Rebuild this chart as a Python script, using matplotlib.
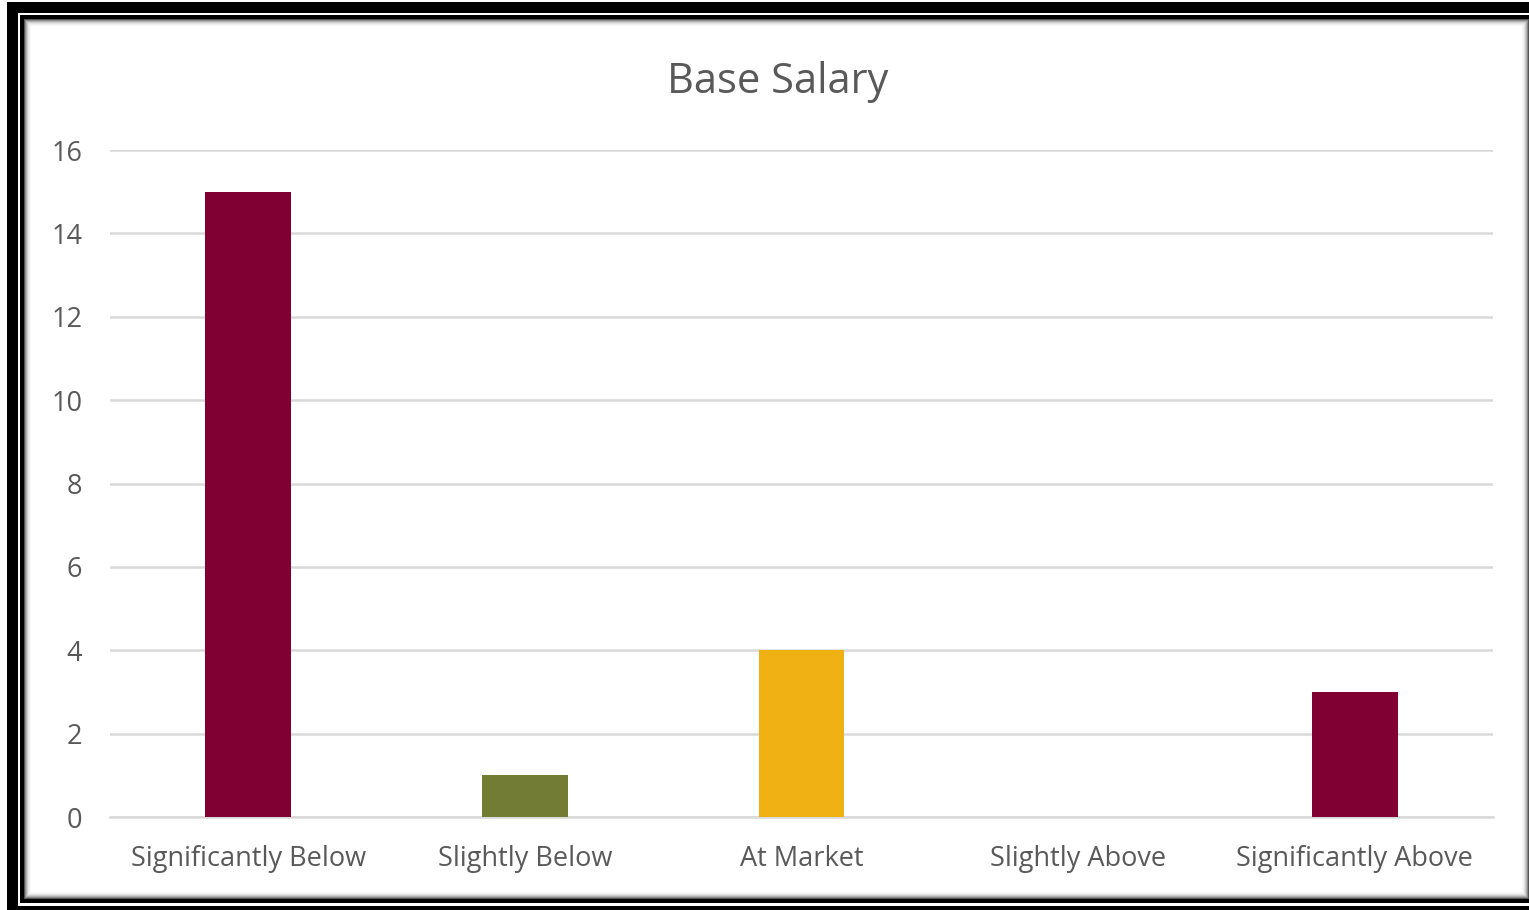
import matplotlib
matplotlib.use("Agg")
import matplotlib.pyplot as plt
from matplotlib.patches import Rectangle

categories = ['Significantly Below', 'Slightly Below', 'At Market', 'Slightly Above', 'Significantly Above']
counts = [15, 1, 4, 0, 3]
bar_colors = ['#800033', '#727C34', '#F0B114', '#800033', '#800033']
yticks = [0, 2, 4, 6, 8, 10, 12, 14, 16]

W, H = 1529, 910
plt.rcParams['font.family'] = ['Open Sans', 'DejaVu Sans']

fig = plt.figure(figsize=(W / 100, H / 100), dpi=100)
fig.patch.set_facecolor('white')


def px_rect(x0, y0, x1, y1, **kw):
    # rectangle in image pixels (y measured from top), kept behind the axes
    r = Rectangle((x0 / W, 1 - y1 / H), (x1 - x0) / W, (y1 - y0) / H,
                  transform=fig.transFigure, zorder=-10, **kw)
    fig.patches.append(r)


# outer frame + shadowed inner box
px_rect(7, 2, 1535, 910, facecolor='black', edgecolor='none')
px_rect(18, 13, 1535, 906, facecolor='white', edgecolor='none')
px_rect(20, 15, 1535, 903, facecolor='black', edgecolor='none')
shades = ['#555555', '#8a8a8a', '#b0b0b0', '#cdcdcd', '#e2e2e2', '#f0f0f0', '#f8f8f8', 'white']
for i, c in enumerate(shades):
    px_rect(24 + i, 19 + i, 1529 - i, 899 - i, facecolor=c, edgecolor='none')

ax = fig.add_axes([110 / W, 1 - 817 / H, (1493 - 110) / W, (817 - 150) / H])
ax.set_facecolor('none')
x = range(len(categories))
ax.bar(x, counts, width=0.31, color=bar_colors, zorder=3)

ax.set_xlim(-0.5, 4.5)
ax.set_ylim(0, 16)
ax.set_yticks(yticks)
ax.set_xticks(list(x))
ax.set_xticklabels(categories)
ax.yaxis.grid(True, color='#d9d9d9', linewidth=1.8, zorder=0)
ax.set_axisbelow(True)
for s in ['top', 'right', 'left']:
    ax.spines[s].set_visible(False)
ax.spines['bottom'].set_color('#d9d9d9')
ax.spines['bottom'].set_linewidth(1.8)
ax.tick_params(axis='both', length=0, labelsize=19.5, labelcolor='#595959')
ax.tick_params(axis='x', pad=20)
ax.tick_params(axis='y', pad=20)

fig.text(778 / W, 1 - 82 / H, 'Base Salary', ha='center', va='center',
         fontsize=30, color='#595959')

plt.savefig('out.png', dpi=100)
